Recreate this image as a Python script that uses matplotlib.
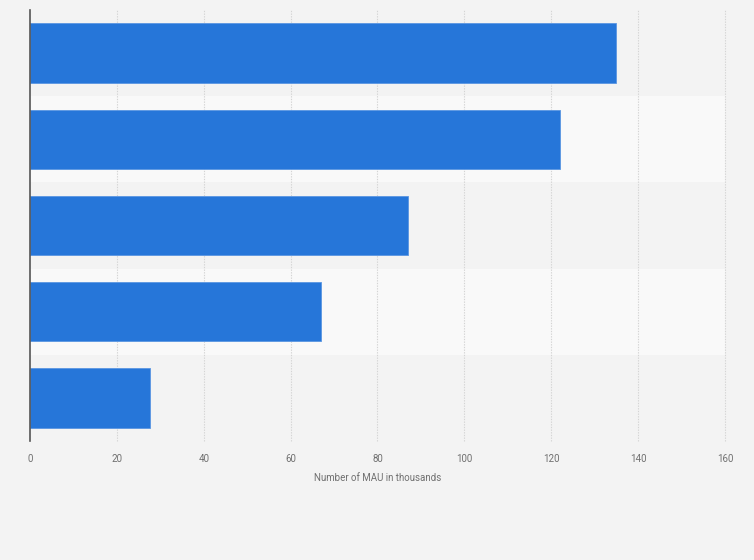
import matplotlib.pyplot as plt

plt.rcParams['font.family'] = ['Roboto', 'DejaVu Sans']

# monthly active users (thousands), top bar first
values = [135, 122, 87, 67, 27.6]
x_ticks = [0, 20, 40, 60, 80, 100, 120, 140, 160]
x_label = "Number of MAU in thousands"

bg = "#f3f3f3"
bar_color = "#2676d9"

fig = plt.figure(figsize=(7.54, 5.6), dpi=100, facecolor=bg)
ax = fig.add_axes([30 / 754, 1 - 441 / 560, 695 / 754, 431 / 560])
ax.set_facecolor(bg)

n = len(values)
ypos = list(range(n))

# alternating row bands
for i in ypos:
    color = "#f3f3f3" if i % 2 == 0 else "#f9f9f9"
    ax.axhspan(i - 0.5, i + 0.5, xmin=0, xmax=1, color=color, zorder=0, lw=0)

# dotted vertical grid, unclipped so the 160 line shows
for t in x_ticks[1:]:
    ax.axvline(t, color="#d4d4d4", linestyle=(0, (1.2, 1.2)), linewidth=0.8,
               zorder=1, clip_on=False)

ax.barh(ypos, values, height=0.69, color=bar_color, edgecolor="#5a96e2",
        linewidth=0.6, zorder=3)

ax.set_xlim(0, 160)
ax.set_ylim(n - 0.5, -0.5)
ax.set_xticks(x_ticks)
ax.set_xticklabels([str(t) for t in x_ticks])
ax.set_yticks([])
ax.tick_params(axis="x", length=0, pad=9, labelsize=7, labelcolor="#707070")

for side in ["top", "right", "bottom"]:
    ax.spines[side].set_visible(False)
ax.spines["left"].set_color("#555555")
ax.spines["left"].set_linewidth(1.2)
ax.spines["left"].set_zorder(4)

ax.set_xlabel(x_label, fontsize=7, color="#707070", labelpad=7)

fig.savefig("out.png", dpi=100, facecolor=bg)
